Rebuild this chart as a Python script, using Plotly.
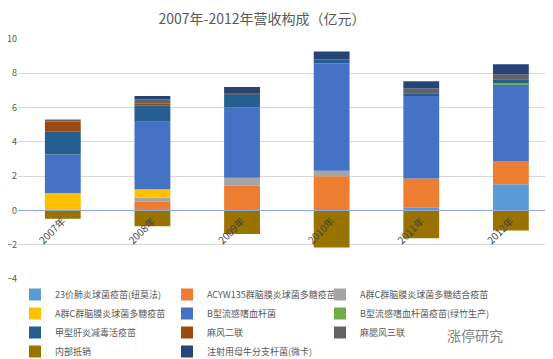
import plotly.graph_objects as go

years = ["2007年", "2008年", "2009年", "2010年", "2011年", "2012年"]

names = [
    "23价肺炎球菌疫苗(纽莫法)",
    "ACYW135群脑膜炎球菌多糖疫苗",
    "A群C群脑膜炎球菌多糖结合疫苗",
    "A群C群脑膜炎球菌多糖疫苗",
    "B型流感嗜血杆菌",
    "B型流感嗜血杆菌疫苗(绿竹生产)",
    "甲型肝炎减毒活疫苗",
    "麻风二联",
    "麻腮风三联",
    "内部抵销",
    "注射用母牛分支杆菌(微卡)",
]

v_23 = [0, 0, 0, 0, 0.18, 1.52]
v_acyw = [0, 0.50, 1.44, 2.00, 1.68, 1.36]
v_ac_conj = [0, 0.24, 0.47, 0.31, 0, 0]
v_ac_poly = [1.01, 0.49, 0, 0, 0, 0]
v_hib = [2.25, 3.95, 4.09, 6.28, 4.81, 4.45]
v_hib_lz = [0, 0, 0, 0, 0, 0.10]
v_hepa = [1.36, 0.92, 0.75, 0.23, 0.16, 0.22]
v_mr = [0.57, 0.15, 0, 0, 0, 0]
v_mmr = [0.12, 0.24, 0.10, 0, 0.28, 0.29]
v_offset = [-0.48, -0.92, -1.37, -2.16, -1.62, -1.17]
v_mv = [0, 0.19, 0.35, 0.45, 0.42, 0.58]

series = [v_23, v_acyw, v_ac_conj, v_ac_poly, v_hib, v_hib_lz,
          v_hepa, v_mr, v_mmr, v_offset, v_mv]
colors = ["#5B9BD5", "#ED7D31", "#A5A5A5", "#FFC000", "#4472C4", "#70AD47",
          "#255E91", "#9E480E", "#636363", "#997300", "#264478"]

font_family = "Noto Sans CJK SC, sans-serif"
legend_ids = ["legend", "legend2", "legend3"]

# The page body adds an 8px margin, so the figure is sized to fit inside it.
W, H = 545, 351

fig = go.Figure()
for i, (name, vals, col) in enumerate(zip(names, series, colors)):
    fig.add_trace(go.Bar(
        x=years, y=vals, name=name,
        marker=dict(color=col, line=dict(width=0)),
        hoverinfo="skip",
        legend=legend_ids[i % 3],
    ))

legend_font = dict(size=9, color="#595959", family=font_family)
legend_top = 1 - 272 / H


def make_legend(xpx):
    return dict(
        orientation="v",
        xref="container", x=xpx / W, xanchor="left",
        yref="container", y=legend_top, yanchor="top",
        itemwidth=30,
        font=legend_font,
        traceorder="normal",
        bgcolor="rgba(0,0,0,0)",
    )


fig.update_layout(
    width=W, height=H,
    barmode="relative",
    bargap=0.6,
    paper_bgcolor="white",
    plot_bgcolor="white",
    font=dict(family=font_family, color="#595959"),
    margin=dict(l=10, r=0, t=31, b=80, autoexpand=False),
    title=dict(
        text="2007年-2012年营收构成（亿元）",
        x=254 / W, xanchor="center",
        y=1 - 11 / H, yanchor="middle",
        font=dict(size=14, color="#595959", family=font_family),
        automargin=False,
    ),
    xaxis=dict(
        range=[-0.5, 5.47],
        anchor="free",
        position=4 / 14,
        showline=True,
        linecolor="#8FAADC",
        linewidth=1,
        ticks="",
        showgrid=False,
        tickangle=-45,
        tickfont=dict(size=10, color="#404040"),
        automargin=False,
    ),
    yaxis=dict(
        range=[-4, 10],
        dtick=2,
        showgrid=True,
        gridcolor="#D9D9D9",
        gridwidth=1,
        zeroline=False,
        showline=False,
        ticks="",
        tickfont=dict(size=9, color="#595959"),
        automargin=False,
    ),
    legend=make_legend(7),
    legend2=make_legend(159),
    legend3=make_legend(312),
    showlegend=True,
)

fig.add_annotation(
    text="涨停研究",
    xref="paper", yref="paper",
    x=(437 - 10) / 535, y=-(327 - 271) / 240,
    xanchor="left", yanchor="middle",
    showarrow=False,
    font=dict(size=14, color="#7F7F7F", family=font_family),
)

fig.write_html("out.html")
